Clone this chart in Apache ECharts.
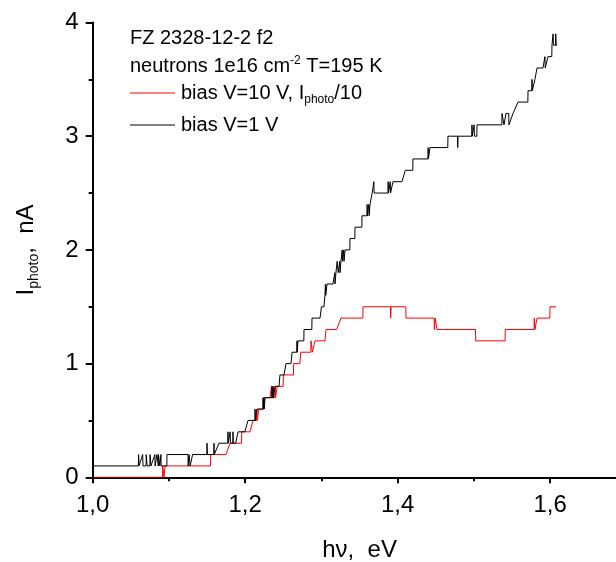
<!DOCTYPE html>
<html><head><meta charset="utf-8">
<script src="https://cdn.jsdelivr.net/npm/echarts@6/dist/echarts.min.js"></script>
<style>html,body{margin:0;padding:0;background:#fff}#c{width:616px;height:562px}</style>
</head><body><div id="c"></div>
<script>
// photon energy hv (eV), photocurrent (nA)
const redPoints = [
  [1.000,0.0],[1.0916,0.0],[1.0918,0.1],[1.0935,0.0],[1.0948,0.1],
  [1.1545,0.1],[1.1547,0.2],
  [1.1748,0.2],[1.1801,0.3],
  [1.1952,0.3],[1.1954,0.4],
  [1.2063,0.4],[1.2102,0.5],
  [1.2150,0.5],[1.2152,0.6],[1.2158,0.5],[1.2180,0.6],
  [1.2238,0.6],[1.2245,0.7],
  [1.2325,0.7],[1.2345,0.8],[1.2350,0.7],[1.2391,0.7],[1.2393,0.8],[1.2397,0.7],[1.2420,0.8],
  [1.2498,0.8],[1.2500,0.9],
  [1.2633,0.9],[1.2635,1.0],
  [1.2717,1.0],[1.2728,1.1],
  [1.2861,1.1],[1.2863,1.2],[1.2880,1.1],[1.2915,1.2],
  [1.3046,1.2],[1.3060,1.3],
  [1.3200,1.3],[1.3256,1.4],
  [1.3543,1.4],[1.3545,1.5],
  [1.3906,1.5],[1.3908,1.4],[1.3912,1.5],
  [1.4107,1.5],[1.4109,1.4],
  [1.4478,1.4],[1.4480,1.3],[1.4492,1.4],[1.4515,1.3],
  [1.5021,1.3],[1.5023,1.2],
  [1.5409,1.2],[1.5411,1.3],
  [1.5789,1.3],[1.5791,1.4],[1.5800,1.3],[1.5827,1.4],
  [1.5995,1.4],[1.5997,1.5],[1.6075,1.5]
];
const blackPoints = [
  [1.000,0.1],[1.0598,0.1],[1.0602,0.2],[1.0608,0.1],
  [1.0630,0.1],[1.0655,0.2],[1.0660,0.1],
  [1.0700,0.1],[1.0702,0.2],[1.0712,0.2],[1.0714,0.1],
  [1.0750,0.1],[1.0752,0.2],[1.0762,0.2],[1.0764,0.1],
  [1.0790,0.1],[1.0815,0.2],[1.0818,0.1],
  [1.0840,0.1],[1.0843,0.2],[1.0860,0.1],[1.0863,0.2],[1.0880,0.1],[1.0895,0.2],[1.0897,0.1],
  [1.0972,0.1],[1.0974,0.2],
  [1.1250,0.2],[1.1252,0.1],[1.1262,0.1],[1.1264,0.2],[1.1276,0.2],[1.1278,0.1],[1.1310,0.2],
  [1.1497,0.2],[1.1499,0.3],[1.1503,0.3],[1.1505,0.2],
  [1.1589,0.2],[1.1591,0.3],[1.1594,0.2],[1.1617,0.2],[1.1656,0.3],
  [1.1772,0.3],[1.1774,0.4],[1.1778,0.3],[1.1800,0.3],[1.1802,0.4],[1.1806,0.3],[1.1838,0.3],[1.1840,0.4],[1.1844,0.3],[1.1875,0.3],[1.1906,0.4],
  [1.1995,0.4],[1.2037,0.5],
  [1.2127,0.5],[1.2129,0.6],[1.2133,0.5],[1.2155,0.6],
  [1.2232,0.6],[1.2234,0.7],[1.2238,0.6],[1.2244,0.6],[1.2246,0.7],[1.2250,0.6],[1.2260,0.7],
  [1.2350,0.7],[1.2352,0.8],[1.2356,0.7],[1.2365,0.7],[1.2367,0.8],[1.2371,0.7],[1.2391,0.8],
  [1.2443,0.8],[1.2456,0.9],
  [1.2509,0.9],[1.2535,1.0],
  [1.2601,1.0],[1.2614,1.1],
  [1.2677,1.1],[1.2679,1.2],[1.2683,1.1],[1.2690,1.1],[1.2692,1.2],
  [1.2769,1.2],[1.2771,1.3],
  [1.2874,1.3],[1.2876,1.4],
  [1.2981,1.4],[1.3000,1.5],
  [1.3033,1.5],[1.3046,1.6],[1.3050,1.6],[1.3052,1.7],[1.3056,1.6],[1.3073,1.7],
  [1.3151,1.7],[1.3175,1.8],[1.3178,1.7],[1.3190,1.8],
  [1.3204,1.8],[1.3206,1.9],[1.3220,1.8],[1.3240,1.9],[1.3243,1.8],[1.3256,1.9],
  [1.3270,1.9],[1.3272,2.0],[1.3276,1.9],[1.3290,1.9],[1.3292,2.0],[1.3296,1.9],[1.3307,1.9],[1.3309,2.0],
  [1.3372,2.0],[1.3374,2.1],
  [1.3438,2.1],[1.3440,2.2],
  [1.3530,2.2],[1.3532,2.3],
  [1.3597,2.3],[1.3599,2.4],[1.3603,2.3],[1.3620,2.3],[1.3622,2.4],[1.3626,2.3],[1.3637,2.4],
  [1.3663,2.4],[1.3665,2.5],[1.3685,2.5],[1.3687,2.6],[1.3691,2.5],
  [1.3873,2.5],[1.3875,2.6],[1.3879,2.5],[1.3900,2.5],[1.3902,2.6],[1.3906,2.5],[1.3918,2.5],[1.3938,2.6],
  [1.4056,2.6],[1.4100,2.7],
  [1.4198,2.7],[1.4200,2.8],
  [1.4397,2.8],[1.4399,2.9],[1.4403,2.8],[1.4423,2.9],
  [1.4657,2.9],[1.4659,3.0],
  [1.4785,3.0],[1.4787,2.9],[1.4791,3.0],
  [1.4972,3.0],[1.4974,3.1],[1.4978,3.0],[1.5000,3.0],[1.5002,3.1],[1.5006,3.0],[1.5038,3.0],[1.5040,3.1],
  [1.5366,3.1],[1.5368,3.2],[1.5392,3.2],[1.5394,3.1],[1.5418,3.1],[1.5420,3.2],[1.5457,3.2],[1.5459,3.1],[1.5480,3.1],[1.5512,3.2],[1.5578,3.3],
  [1.5707,3.3],[1.5709,3.4],
  [1.5759,3.4],[1.5761,3.5],[1.5765,3.4],[1.5800,3.5],
  [1.5825,3.5],[1.5827,3.6],
  [1.5905,3.6],[1.5931,3.7],[1.5935,3.6],[1.5971,3.7],
  [1.6021,3.7],[1.6023,3.8],[1.6036,3.8],[1.6038,3.9],[1.6042,3.8],[1.6070,3.8],[1.6072,3.9],[1.6077,3.9],[1.6079,3.8],[1.6089,3.8]
];
const xTickValues = [1.0, 1.2, 1.4, 1.6];
const xTickLabels = ['1,0', '1,2', '1,4', '1,6'];
const yTickLabels = ['0', '1', '2', '3', '4'];
const seriesNames = ['bias V=10 V, I_photo/10', 'bias V=1 V'];

const FONT = '"Liberation Sans", Arial, sans-serif';
const chart = echarts.init(document.getElementById('c'), null, {renderer: 'canvas'});
chart.setOption({
  animation: false,
  backgroundColor: '#fff',
  grid: {left: 92.7, top: 22.5, width: 533.75, height: 454.8, containLabel: false, outerBoundsMode: 'none'},
  xAxis: {
    type: 'value', min: 1.0, max: 1.7, interval: 0.2,
    name: 'hν,  eV', nameLocation: 'middle', nameGap: 61,
    nameTextStyle: {fontFamily: FONT, fontSize: 24, color: '#000'},
    axisLine: {show: true, lineStyle: {color: '#000', width: 2}},
    axisTick: {show: true, inside: false, length: 6, lineStyle: {color: '#000', width: 2}},
    minorTick: {show: true, splitNumber: 2, length: 4, lineStyle: {color: '#000', width: 2}},
    splitLine: {show: false},
    axisLabel: {
      fontFamily: FONT, fontSize: 24, color: '#000', margin: 16, showMaxLabel: false,
      formatter: v => { const i = xTickValues.findIndex(t => Math.abs(t - v) < 1e-6); return i >= 0 ? xTickLabels[i] : ''; }
    }
  },
  yAxis: {
    type: 'value', min: 0, max: 4, interval: 1,
    name: 'I{sub|photo},  nA', nameLocation: 'middle', nameGap: 52,
    nameTextStyle: {fontFamily: FONT, fontSize: 24, color: '#000', lineHeight: 28,
      rich: {sub: {fontFamily: FONT, fontSize: 14, lineHeight: 10, verticalAlign: 'bottom', color: '#000'}}},
    axisLine: {show: true, lineStyle: {color: '#000', width: 2}},
    axisTick: {show: true, inside: false, length: 7, lineStyle: {color: '#000', width: 2}},
    minorTick: {show: true, splitNumber: 2, length: 4, lineStyle: {color: '#000', width: 2}},
    splitLine: {show: false},
    axisLabel: {fontFamily: FONT, fontSize: 24, color: '#000', margin: 14,
      formatter: v => yTickLabels[Math.round(v)] ?? ''}
  },
  series: [
    {name: seriesNames[0], type: 'line', data: redPoints, showSymbol: false, symbol: 'none',
     lineStyle: {color: '#ff0000', width: 1}, itemStyle: {color: '#ff0000'}},
    {name: seriesNames[1], type: 'line', data: blackPoints, showSymbol: false, symbol: 'none',
     lineStyle: {color: '#000000', width: 1}, itemStyle: {color: '#000000'}}
  ],
  graphic: [
    {type: 'text', x: 130, y: 38.8, style: {text: 'FZ 2328-12-2 f2', font: '20px ' + FONT, fill: '#000', verticalAlign: 'middle', lineHeight: 24}},
    {type: 'text', x: 130, y: 66.8, style: {text: 'neutrons 1e16 cm{sup|-2} T=195 K', font: '20px ' + FONT, fill: '#000', verticalAlign: 'middle', lineHeight: 24,
      rich: {sup: {font: '12px ' + FONT, fill: '#000', lineHeight: 13, verticalAlign: 'top'}}}},
    {type: 'line', shape: {x1: 130, y1: 93, x2: 175, y2: 93}, style: {stroke: '#ff0000', lineWidth: 1}},
    {type: 'text', x: 181, y: 93.8, style: {text: 'bias V=10 V, I{sub|photo}/10', font: '20px ' + FONT, fill: '#000', verticalAlign: 'middle', lineHeight: 24,
      rich: {sub: {font: '12px ' + FONT, fill: '#000', lineHeight: 8, verticalAlign: 'bottom'}}}},
    {type: 'line', shape: {x1: 130, y1: 125, x2: 175, y2: 125}, style: {stroke: '#000000', lineWidth: 1}},
    {type: 'text', x: 181, y: 125.8, style: {text: 'bias V=1 V', font: '20px ' + FONT, fill: '#000', verticalAlign: 'middle', lineHeight: 24}}
  ]
});
</script></body></html>
